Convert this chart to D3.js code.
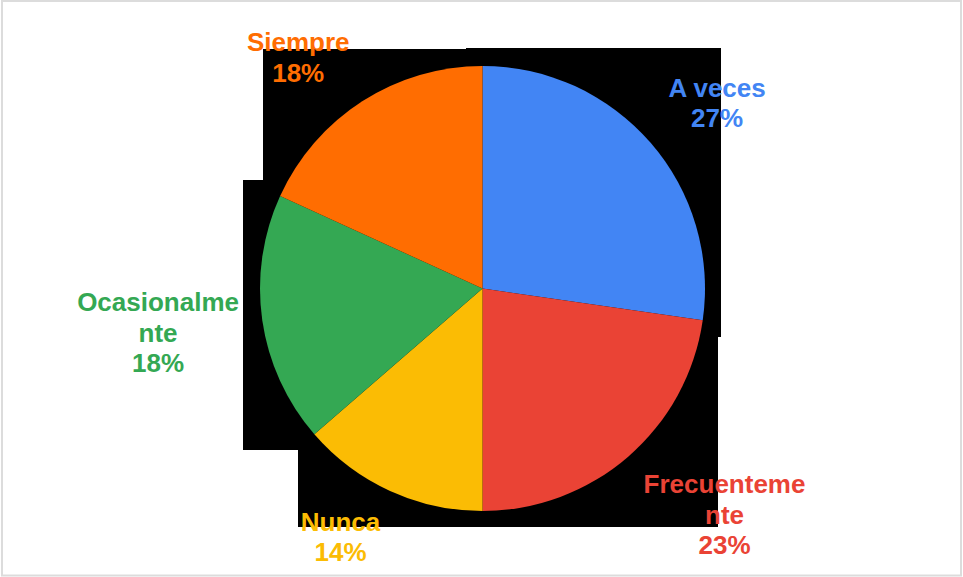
<!DOCTYPE html>
<html>
<head>
<meta charset="utf-8">
<script src="https://cdn.jsdelivr.net/npm/d3@7"></script>
<style>
  html, body { margin: 0; padding: 0; background: #fff; }
  svg { display: block; }
</style>
</head>
<body>
<svg id="chart" width="963" height="577"></svg>
<script>
// Survey answers: how often the activity happens
const categories = ["A veces", "Frecuentemente", "Nunca", "Ocasionalmente", "Siempre"];
const responses = [6, 5, 3, 4, 4];
const sliceColors = ["#4285F4", "#EA4335", "#FBBC04", "#34A853", "#FF6D01"];

const W = 963, H = 577;
const cx = 482.5, cy = 288.5, radius = 222.5;
const fontSize = 26, lineHeight = 30.5, capHeight = 18.6, wrapWidth = 170;
const labelRadius = 246;

const svg = d3.select("#chart");

// Canvas frame
svg.append("rect")
  .attr("x", 2).attr("y", 1).attr("width", W - 4).attr("height", H - 2.5)
  .attr("fill", "#fff").attr("stroke", "#dcdcdc").attr("stroke-width", 2);

// Dark backdrop behind the pie area
const backdrop = [
  [263, 49], [466, 49], [466, 48], [721, 48], [721, 337], [718, 337],
  [718, 527], [298, 527], [298, 450], [243, 450], [243, 180], [263, 180]
];
svg.append("path")
  .attr("d", d3.line()(backdrop) + "Z")
  .attr("fill", "#000");

const total = d3.sum(responses);
const data = categories.map((c, i) => ({ name: c, value: responses[i], color: sliceColors[i] }));

const pie = d3.pie().sort(null).value(d => d.value);
const arcs = pie(data);
const arc = d3.arc().innerRadius(0).outerRadius(radius);

const g = svg.append("g").attr("transform", `translate(${cx},${cy})`);
g.selectAll("path.slice")
  .data(arcs)
  .join("path")
  .attr("class", "slice")
  .attr("d", arc)
  .attr("fill", d => d.data.color);

// Label text: wrap long words character by character to the label width
const pct = d3.format(".0%");
const measure = svg.append("text")
  .attr("font-family", "'Liberation Sans', Arial, sans-serif")
  .attr("font-weight", "bold")
  .attr("font-size", fontSize)
  .attr("visibility", "hidden");
function textWidth(s) { measure.text(s); return measure.node().getComputedTextLength(); }
function wrapChars(s) {
  const lines = [];
  let cur = "";
  for (const ch of s) {
    if (cur && textWidth(cur + ch) > wrapWidth) { lines.push(cur); cur = ch.trimStart(); }
    else cur += ch;
  }
  if (cur) lines.push(cur);
  return lines;
}

const labels = svg.append("g")
  .attr("font-family", "'Liberation Sans', Arial, sans-serif")
  .attr("font-weight", "bold")
  .attr("font-size", fontSize)
  .attr("text-anchor", "middle");

const clamp = v => Math.max(-1, Math.min(1, v));

// Each label block hangs off a point just outside the rim at the slice's mid-angle,
// with the block's nearest corner (or edge) touching that point.
arcs.forEach(d => {
  const lines = wrapChars(d.data.name).concat([pct(d.data.value / total)]);
  const w = d3.max(lines, textWidth);
  const h = capHeight + (lines.length - 1) * lineHeight;
  const a = (d.startAngle + d.endAngle) / 2;
  const s = Math.sin(a), c = Math.cos(a);
  const px = cx + labelRadius * s, py = cy - labelRadius * c;
  const bx = px + clamp(s * 2.5) * w / 2;
  const by = py + clamp(-c * 1.6) * h / 2;
  const top = by - h / 2;
  const t = labels.append("text").attr("fill", d.data.color);
  lines.forEach((ln, i) => {
    t.append("tspan").attr("x", bx).attr("y", top + capHeight + i * lineHeight).text(ln);
  });
});
measure.remove();
</script>
</body>
</html>
